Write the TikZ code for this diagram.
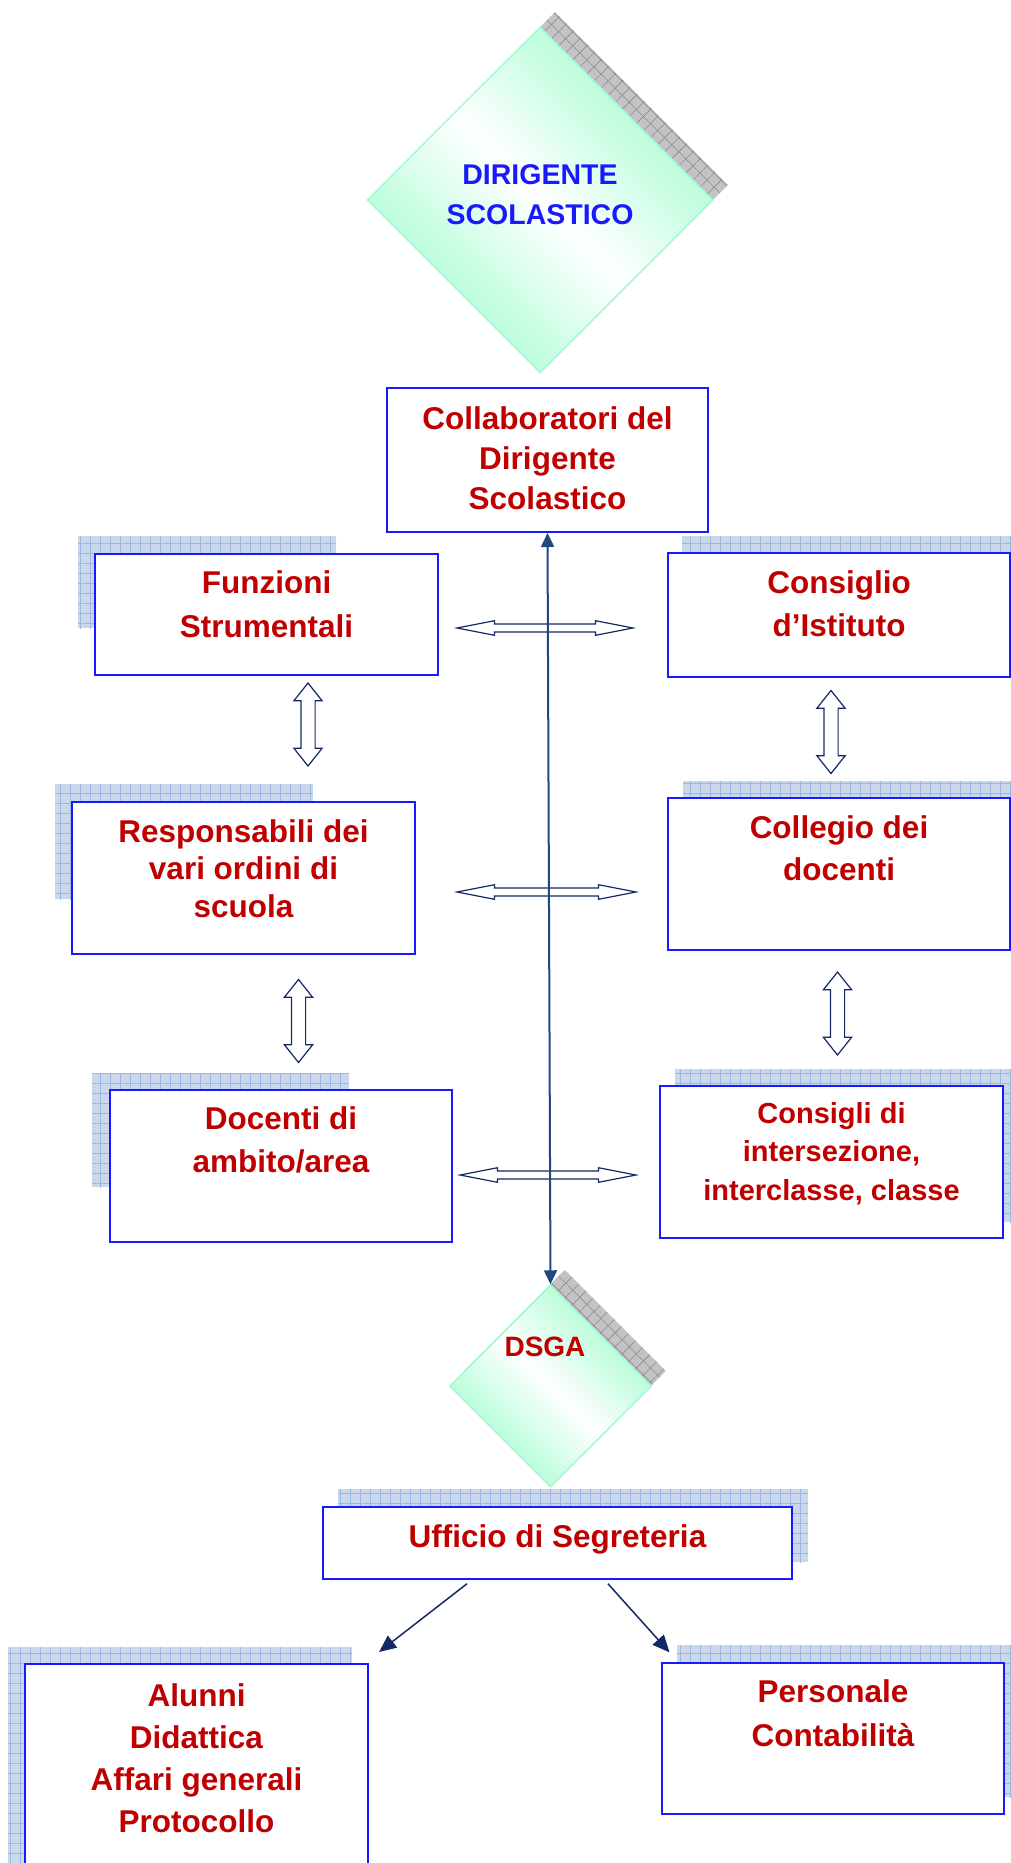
\documentclass[tikz,border=0pt]{standalone}
\usepackage{fontspec}
\setmainfont{Liberation Sans}
\usetikzlibrary{positioning,shapes.geometric,shapes.arrows,arrows.meta,patterns.meta,calc}
\definecolor{myblue}{RGB}{25,25,255}
\definecolor{myred}{RGB}{192,0,0}
\definecolor{mymint}{RGB}{160,252,206}
\definecolor{mynavy}{RGB}{20,40,100}
\definecolor{mylink}{RGB}{31,73,125}
\definecolor{gridfill}{RGB}{203,216,236}
\definecolor{gridline}{RGB}{155,184,226}
\definecolor{shadegray}{RGB}{195,195,195}
\definecolor{hatchgray}{RGB}{140,140,140}

\begin{document}
\begin{tikzpicture}[x=1pt,y=-1pt,
  box/.style={draw=myblue,line width=2pt,fill=white,anchor=north west,inner sep=0pt},
  txt/.style={text=myred,align=center,inner sep=0pt,font=\bfseries\fontsize{31.5}{#1}\selectfont},
  txt/.default=42,
  dnode/.style={diamond,aspect=1,inner sep=0pt,draw=mymint,line width=1.5pt,
    top color=mymint,bottom color=mymint,middle color=white,shading angle=-45},
  dshadow/.style={diamond,aspect=1,inner sep=0pt,fill=shadegray,
    postaction={pattern={Hatch[angle=45,distance=10pt,line width=0.6pt]},pattern color=hatchgray}},
  gridshadow/.style={fill=gridfill,
    postaction={pattern={Hatch[angle=0,distance=10pt,line width=0.6pt]},pattern color=gridline}},
  harrow/.style={double arrow,draw=mynavy,fill=white,line width=1.2pt,inner xsep=0pt,inner ysep=3.4pt,
    double arrow head extend=3.3pt,double arrow tip angle=22,minimum height=176pt},
  varrow/.style={double arrow,rotate=90,draw=mynavy,fill=white,line width=1.2pt,inner xsep=0pt,inner ysep=6.5pt,
    double arrow head extend=7pt,double arrow tip angle=77,minimum height=83pt},
  link/.style={mylink,line width=2pt,{Triangle[length=14pt,width=13pt]}-{Triangle[length=14pt,width=13pt]}},
  sarrow/.style={mynavy,line width=1.5pt,-{Triangle[length=17pt,width=15pt]}}
]
\useasboundingbox (0,0) rectangle (1011,1863);
\clip (0,0) rectangle (1011,1863);

% the grid shadows
\foreach \ax/\ay/\bx/\by in {78/536/336/628, 682/536/1020/660, 55/784/313/899,
    683/781/1020/933, 92/1073/349/1187, 675/1069/1020/1222, 338/1489/808/1562,
    8/1647/352/1870, 677/1645/1020/1797}
  \fill[gridshadow] (\ax,\ay) rectangle (\bx,\by);

% the diamonds
\node[dshadow,minimum size=346pt] (dirS) at (555,185) {};
\node[dnode,minimum size=346pt] (dir) at (540,200) {};
\node[text=myblue,align=center,inner sep=0pt,font=\bfseries\fontsize{28.5}{40}\selectfont]
  (dirT) at (540,195) {DIRIGENTE\\SCOLASTICO};
\node[dshadow,minimum size=202pt] (dsgaS) at (565,1371) {};
\node[dnode,minimum size=202pt] (dsga) at (550.5,1386) {};
\node[text=myred,inner sep=0pt,font=\bfseries\fontsize{28}{34}\selectfont] (dsgaT) at (545,1347) {DSGA};

% the boxes
\node[box,minimum width=321pt,minimum height=144pt] (collab) at (386,387) {};
\node[box,minimum width=343pt,minimum height=121pt] (funz) at (94,553) {};
\node[box,minimum width=342pt,minimum height=124pt] (cist) at (667,552) {};
\node[box,minimum width=343pt,minimum height=152pt] (resp) at (71,801) {};
\node[box,minimum width=342pt,minimum height=152pt] (coll) at (667,797) {};
\node[box,minimum width=342pt,minimum height=152pt] (doc) at (109,1089) {};
\node[box,minimum width=343pt,minimum height=152pt] (inters) at (659,1085) {};
\node[box,minimum width=469pt,minimum height=72pt] (uff) at (322,1506) {};
\node[box,minimum width=343pt,minimum height=260pt] (alun) at (24,1663) {};
\node[box,minimum width=342pt,minimum height=151pt] (pers) at (661,1662) {};

% the texts
\node[txt=40,below=19pt of collab.north] (collabT) {Collaboratori del\\Dirigente\\Scolastico};
\node[txt=44,below=17pt of funz.north] (funzT) {Funzioni\\Strumentali};
\node[txt=43,below=18pt of cist.north] (cistT) {Consiglio\\d’Istituto};
\node[txt=37.5,below=18pt of resp.north] (respT) {Responsabili dei\\vari ordini di\\scuola};
\node[txt=42,below=18pt of coll.north] (collT) {Collegio dei\\docenti};
\node[txt=43,below=17pt of doc.north] (docT) {Docenti di\\ambito/area};
\node[txt,font=\bfseries\fontsize{29}{38.5}\selectfont,below=17pt of inters.north] (intersT)
  {Consigli di\\intersezione,\\interclasse, classe};
\node[txt,below=18pt of uff.north] (uffT) {Ufficio di Segreteria};
\node[txt=42,below=20pt of alun.north] (alunT) {Alunni\\Didattica\\Affari generali\\Protocollo};
\node[txt=44,below=17pt of pers.north] (persT) {Personale\\Contabilità};

% the hollow arrows
\node[harrow] (h1) at (545,628) {};
\node[harrow,minimum height=179pt] (h2) at (546.5,892) {};
\node[harrow] (h3) at (548,1175) {};
\node[varrow] (v1) at (308,724.5) {};
\node[varrow] (v2) at (298.5,1021) {};
\node[varrow] (v3) at (831,732) {};
\node[varrow] (v4) at (837.5,1013.5) {};

% the edges
\draw[link] (collab.south) -- (dsga.north);
\draw[sarrow,shorten <=6pt,shorten >=18pt] ($(uff.south west)!0.318!(uff.south east)$)
  -- ($(alun.north west)!0.988!(alun.north east)$);
\draw[sarrow,shorten <=5pt,shorten >=13pt] ($(uff.south west)!0.6!(uff.south east)$)
  -- ($(pers.north west)!0.05!(pers.north east)$);
\end{tikzpicture}
\end{document}
